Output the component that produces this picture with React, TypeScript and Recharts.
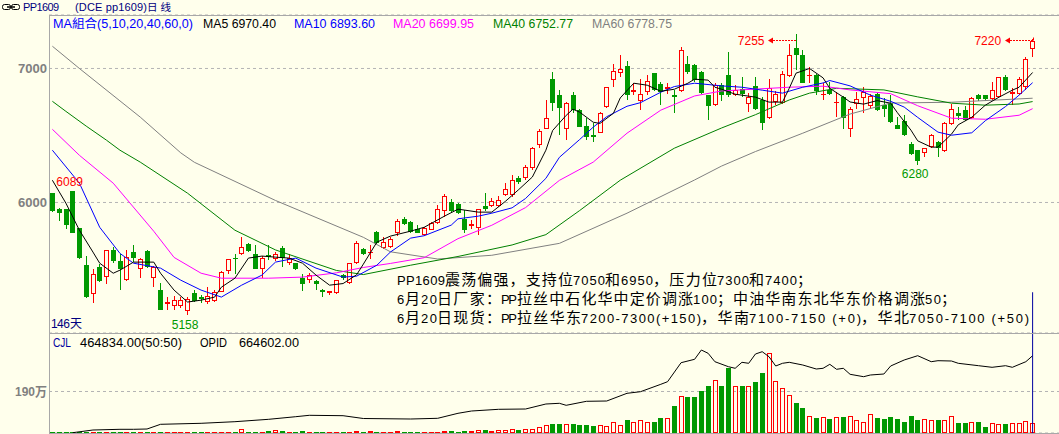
import React from 'react';
import { ComposedChart, Bar, Line, XAxis, YAxis, CartesianGrid, ReferenceDot, ReferenceLine } from 'recharts';

// ---- daily bars (index 0 = first visible day) ----
const OPEN = [
  6067, 5955, 5948, 6085, 5806, 5532, 5316, 5520, 5445, 5644,
  5562, 5425, 5632, 5500, 5637, 5440, 5346, 5241, 5231, 5226,
  5191, 5326, 5296, 5256, 5266, 5333, 5490, 5589, 5614, 5689,
  5612, 5507, 5609, 5575, 5664, 5552, 5545, 5440, 5420, 5413,
  5346, 5328, 5326, 5458, 5400, 5545, 5652, 5624, 5781, 5657,
  5669, 5769, 5876, 5858, 5803, 5756, 5798, 5848, 5938, 6000,
  5990, 5873, 5826, 5806, 5973, 5973, 5973, 6055, 6055, 6180,
  6179, 6254, 6428, 6552, 6920, 6801, 6552, 6801, 6689, 6572,
  6505, 6522, 6709, 6913, 6963, 7017, 6821, 6756, 6826, 6963,
  6883, 6846, 6801, 6831, 7037, 7025, 6975, 6801, 6730, 6876,
  6950, 6801, 6846, 6734, 6868, 6764, 6627, 6751, 6739, 6943,
  7154, 7100, 6943, 6950, 6801, 6843, 6739, 6789, 6552, 6734,
  6776, 6719, 6808, 6726, 6739, 6577, 6607, 6440, 6390, 6366,
  6415, 6453, 6386, 6585, 6664, 6689, 6627, 6801, 6801, 6769,
  6784, 6933, 6806, 6808, 6860, 7142,
];
const HIGH = [
  6070, 5960, 5952, 6089, 5810, 5599, 5500, 5540, 5645, 5669,
  5619, 5644, 5686, 5582, 5644, 5525, 5400, 5296, 5301, 5296,
  5296, 5346, 5308, 5366, 5346, 5490, 5580, 5619, 5739, 5700,
  5686, 5600, 5681, 5627, 5674, 5612, 5550, 5465, 5475, 5425,
  5355, 5343, 5425, 5465, 5550, 5714, 5660, 5682, 5790, 5744,
  5739, 5873, 5893, 5862, 5831, 5820, 5856, 5980, 6062, 6025,
  5998, 5943, 5870, 5955, 6072, 6030, 6045, 6142, 6204, 6196,
  6278, 6415, 6547, 6764, 6970, 6843, 6751, 6826, 6700, 6634,
  6590, 6677, 6865, 7032, 7100, 7055, 6888, 6918, 6950, 6968,
  6900, 6888, 6843, 7157, 7092, 7030, 6980, 6805, 6895, 6890,
  7124, 6876, 6933, 6818, 6938, 6790, 6925, 6830, 6983, 7179,
  7255, 7137, 7012, 6955, 6888, 6900, 6826, 6795, 6710, 6826,
  6858, 6810, 6815, 6776, 6801, 6639, 6652, 6450, 6395, 6410,
  6510, 6460, 6600, 6734, 6714, 6719, 6789, 6810, 6805, 6900,
  6938, 6950, 6851, 6938, 7082, 7220,
];
const LOW = [
  5930, 5863, 5801, 5770, 5580, 5290, 5251, 5410, 5395, 5550,
  5346, 5415, 5557, 5433, 5510, 5370, 5195, 5201, 5201, 5209,
  5158, 5259, 5251, 5246, 5260, 5330, 5465, 5470, 5610, 5630,
  5500, 5433, 5570, 5562, 5520, 5532, 5495, 5341, 5400, 5346,
  5291, 5310, 5320, 5420, 5395, 5540, 5610, 5575, 5690, 5650,
  5660, 5749, 5835, 5770, 5770, 5750, 5795, 5843, 5893, 5930,
  5915, 5769, 5800, 5756, 5938, 5968, 5965, 6047, 6040, 6140,
  6166, 6245, 6408, 6545, 6684, 6507, 6465, 6664, 6560, 6465,
  6453, 6515, 6705, 6863, 6938, 6764, 6801, 6689, 6801, 6830,
  6726, 6813, 6669, 6821, 6960, 6900, 6810, 6619, 6720, 6760,
  6790, 6795, 6789, 6677, 6690, 6540, 6620, 6730, 6735, 6940,
  6988, 6890, 6893, 6801, 6764, 6800, 6640, 6545, 6490, 6701,
  6664, 6700, 6680, 6640, 6595, 6545, 6495, 6355, 6280, 6340,
  6410, 6341, 6380, 6580, 6615, 6610, 6620, 6760, 6760, 6765,
  6780, 6830, 6726, 6800, 6840, 7087,
];
const CLOSE = [
  5935, 5923, 5831, 5774, 5587, 5296, 5470, 5415, 5644, 5562,
  5500, 5594, 5582, 5575, 5520, 5520, 5201, 5259, 5271, 5271,
  5283, 5266, 5281, 5301, 5333, 5483, 5575, 5575, 5669, 5639,
  5507, 5589, 5594, 5612, 5582, 5587, 5500, 5388, 5458, 5388,
  5331, 5338, 5420, 5433, 5545, 5694, 5619, 5632, 5699, 5706,
  5731, 5863, 5843, 5781, 5774, 5813, 5848, 5955, 6047, 5935,
  5920, 5793, 5836, 5948, 5953, 6010, 6022, 6097, 6170, 6154,
  6266, 6408, 6532, 6634, 6739, 6706, 6746, 6689, 6565, 6485,
  6490, 6664, 6858, 6983, 6993, 6801, 6843, 6808, 6908, 6838,
  6826, 6858, 6784, 7137, 6970, 6913, 6818, 6719, 6880, 6801,
  6801, 6843, 6813, 6789, 6701, 6590, 6851, 6806, 6958, 7100,
  7100, 6893, 6950, 6833, 6813, 6808, 6751, 6627, 6701, 6769,
  6826, 6794, 6689, 6694, 6602, 6552, 6502, 6361, 6311, 6403,
  6502, 6410, 6590, 6701, 6647, 6615, 6776, 6771, 6769, 6838,
  6933, 6838, 6826, 6918, 7067, 7206,
];
// volume, in 万 lots
const VOLUME = [
  1.5, 1.5, 1.5, 3, 3, 3, 4.5, 3, 4.5, 3,
  3, 4.5, 3, 3, 3, 3, 3, 3, 3, 3,
  3, 3, 3, 3, 3, 3, 3, 4.5, 18, 4.5,
  4.5, 4.5, 9, 12, 9, 4.5, 4.5, 9, 4.5, 4.5,
  4.5, 4.5, 4.5, 4.5, 4.5, 9, 4.5, 9, 4.5, 3,
  3, 9, 4.5, 4.5, 4.5, 3, 3, 3, 7.5, 9,
  4.5, 9, 9, 13.6, 13.6, 9, 13.6, 13.6, 18, 13.6,
  18, 18, 25.6, 36, 40.7, 40.7, 40.7, 40.7, 36, 36,
  31.7, 36, 31.7, 49.8, 36, 58.8, 49.8, 58.8, 49.8, 49.8,
  67.9, 70.9, 122, 170, 164, 167, 190, 217, 243, 213,
  296, 217, 217, 213, 235, 273, 366, 240, 207, 175,
  137, 115, 80, 68, 71, 63, 71, 72, 77, 59,
  50, 86, 68, 63, 72, 63, 51, 77, 59, 63,
  59, 59, 59, 77, 45, 45, 50, 50, 27, 45,
  41, 41, 45, 45, 54, 46.48,
];

// moving-average lines as [day, value]
const MA5_PTS: [number, number][] = [
  [0, 6166], [2, 5995], [4, 5793], [6, 5630], [7, 5547], [9, 5472], [10, 5495], [12, 5555], [15, 5555],
  [16, 5472], [18, 5346], [20, 5257], [22, 5271], [24, 5294], [25, 5368], [27, 5435], [29, 5585], [31, 5600],
  [33, 5592], [35, 5585], [37, 5547], [39, 5458], [41, 5383], [43, 5395], [45, 5460], [46, 5540], [48, 5704],
  [50, 5749], [53, 5786], [55, 5815], [58, 5898], [60, 5950], [61, 5943], [63, 5928], [65, 5928], [67, 6008],
  [69, 6097], [71, 6190], [73, 6390], [74, 6537], [76, 6650], [77, 6696], [78, 6674], [80, 6599], [81, 6590],
  [83, 6666], [84, 6780], [86, 6890], [88, 6875], [90, 6830], [92, 6845], [94, 6890], [95, 6920], [97, 6913],
  [98, 6860], [99, 6845], [101, 6808], [104, 6786], [106, 6749], [108, 6749], [109, 6852], [110, 6965],
  [112, 7000], [114, 6930], [115, 6852], [117, 6786], [118, 6750], [120, 6734], [122, 6760], [124, 6741],
  [125, 6670], [127, 6540], [128, 6460], [130, 6413], [131, 6413], [133, 6510], [134, 6580], [136, 6636],
  [138, 6726], [140, 6785], [142, 6838], [143, 6860], [145, 6970],
];
const MA10_PTS: [number, number][] = [
  [0, 6390], [4, 6144], [7, 5815], [10, 5620], [12, 5547], [16, 5510], [19, 5420], [22, 5346], [25, 5294],
  [28, 5383], [31, 5458], [33, 5555], [36, 5585], [39, 5510], [43, 5443], [45, 5450], [48, 5532], [50, 5630],
  [53, 5734], [55, 5752], [59, 5831], [60, 5878], [63, 5898], [65, 5920], [68, 5960], [70, 6030], [73, 6180],
  [75, 6337], [78, 6470], [80, 6562], [82, 6640], [85, 6718], [87, 6745], [90, 6823], [92, 6865], [95, 6890],
  [99, 6870], [102, 6860], [105, 6838], [108, 6816], [111, 6860], [114, 6892], [115, 6910], [118, 6870],
  [121, 6801], [124, 6755], [126, 6712], [128, 6635], [131, 6525], [133, 6502], [136, 6520], [138, 6610],
  [141, 6716], [143, 6801], [145, 6894],
];
const MA20_PTS: [number, number][] = [
  [0, 6546], [4, 6352], [9, 6144], [15, 5785], [18, 5590], [22, 5472], [25, 5435], [32, 5435], [37, 5443],
  [42, 5475], [46, 5515], [50, 5545], [55, 5588], [60, 5730], [65, 5830], [70, 5962], [75, 6165], [80, 6301],
  [85, 6517], [90, 6689], [95, 6795], [99, 6832], [104, 6846], [109, 6860], [114, 6868], [118, 6840],
  [124, 6812], [128, 6722], [133, 6629], [138, 6621], [143, 6651], [145, 6700],
];
const MA40_PTS: [number, number][] = [
  [0, 6755], [2, 6680], [5, 6570], [8, 6465], [10, 6390], [13, 6301], [20, 6069], [27, 5793], [33, 5646],
  [42, 5493], [46, 5462], [53, 5532], [60, 5597], [68, 5683], [73, 5760], [78, 5940], [84, 6166], [92, 6405],
  [99, 6556], [104, 6655], [109, 6765], [112, 6816], [116, 6852], [123, 6840], [128, 6788], [133, 6741],
  [138, 6726], [143, 6735], [145, 6753],
];
const MA60_PTS: [number, number][] = [
  [0, 7166], [4, 7000], [13, 6637], [19, 6370], [21, 6300], [33, 6015], [46, 5740], [50, 5632], [57, 5578],
  [65, 5606], [75, 5695], [85, 5920], [95, 6168], [99, 6272], [104, 6380], [111, 6517], [118, 6660],
  [124, 6742], [133, 6748], [145, 6778],
];
// open interest line in the lower panel, [day, lots]
const OPID_PTS: [number, number][] = [
  [3, 2600], [6, 25800], [10, 31800], [12, 31800], [14, 34400], [16, 74800], [22, 83400], [27, 97200],
  [32, 117800], [36, 140200], [38, 152200], [43, 148800], [46, 124700], [53, 120400], [57, 126400],
  [60, 169400], [62, 189200], [66, 203800], [70, 206400], [73, 249400], [75, 255400], [76, 238200],
  [79, 272600], [82, 275200], [85, 341400], [87, 355200], [90, 418800], [91, 441200], [93, 604600],
  [95, 633800], [96, 713800], [97, 685400], [98, 613200], [100, 570200], [101, 556400], [102, 608000],
  [103, 599400], [104, 679400], [105, 699200], [106, 656200], [107, 576200], [108, 599400], [109, 608000],
  [111, 584800], [113, 550400], [114, 556400], [115, 590800], [116, 547800], [117, 556400], [118, 504800],
  [120, 484200], [121, 498800], [123, 507400], [124, 576200], [126, 627800], [128, 664800], [130, 613200],
  [131, 621800], [133, 619200], [134, 599400], [137, 578800], [139, 565000], [141, 578800], [142, 565000],
  [144, 613200], [145, 664602],
];

const PRICE_TICKS = [6000, 7000];
const VOL_TICKS = [190];
const PRICE_DOMAIN: [number, number] = [5026, 7399];
const VOL_DOMAIN: [number, number] = [0, 457.8];
const OPID_DOMAIN: [number, number] = [0, 860000];
const CURSOR_FROM = 5330;

// labelled extremes: [day, price]
const HIGH_MARKS: [number, number][] = [[3, 6089]];
const LOW_MARKS: [number, number][] = [[20, 5158], [128, 6280]];
const ARROW_MARKS: [number, number, number][] = [[110, 7255, 6], [145, 7220, 1.5]];

const MA_LEGEND = [
  { x: 53, text: 'MA組合(5,10,20,40,60,0)', color: '#0000FF', w: 140 },
  { x: 203, text: 'MA5 6970.40', color: '#000000', w: 73 },
  { x: 294, text: 'MA10 6893.60', color: '#0000FF', w: 81 },
  { x: 393, text: 'MA20 6699.95', color: '#FF00FF', w: 81 },
  { x: 493, text: 'MA40 6752.77', color: '#008000', w: 80 },
  { x: 592, text: 'MA60 6778.75', color: '#808080', w: 80 },
];
const VOL_LEGEND = [
  { x: 53, text: 'CJL', color: '#0000A0', w: 18 },
  { x: 80, text: '464834.00(50:50)', color: '#000000', w: 102 },
  { x: 200, text: 'OPID', color: '#000000', w: 27 },
  { x: 239, text: '664602.00', color: '#000000', w: 60 },
];
const NOTES = [
  'PP1609震荡偏强，支持位7050和6950，压力位7300和7400；',
  '6月20日厂家：PP拉丝中石化华中定价调涨100；中油华南东北华东价格调涨50；',
  '6月20日现货：PP拉丝华东7200-7300(+150)，华南7100-7150 (+0)，华北7050-7100 (+50)',
];

const BG = '#FFFFEC';
const RED = '#FF0000';
const GREEN = '#009900';
const FRAME = '#A8A8A8';
const GRID = '#B4B4B4';
const SANS = '"Liberation Sans", Arial, sans-serif';
const CJK = '"Noto Sans CJK SC", sans-serif';
const MIXED = '"Liberation Sans", "Noto Sans CJK SC", sans-serif';

const lookup = (pts: [number, number][]) => {
  const m = new Map(pts);
  return (i: number) => (m.has(i) ? (m.get(i) as number) : null);
};
const ma5 = lookup(MA5_PTS), ma10 = lookup(MA10_PTS), ma20 = lookup(MA20_PTS);
const ma40 = lookup(MA40_PTS), ma60 = lookup(MA60_PTS), opid = lookup(OPID_PTS);

const rows = OPEN.map((o, i) => ({
  idx: i,
  open: o,
  high: HIGH[i],
  low: LOW[i],
  close: CLOSE[i],
  range: [LOW[i], HIGH[i]],
  vol: VOLUME[i],
  ma5: ma5(i),
  ma10: ma10(i),
  ma20: ma20(i),
  ma40: ma40(i),
  ma60: ma60(i),
  opid: opid(i),
}));

const Candle = (props: any) => {
  const { x, y, width, height, payload } = props;
  if (!payload || height == null) return null;
  const { open, close, high, low } = payload;
  const top = Math.min(y, y + height);
  const h = Math.abs(height);
  const toY = (p: number) => top + ((high - p) / (high - low || 1)) * h;
  const cx = Math.floor(x + width / 2);
  const up = close >= open;
  const bTop = Math.round(Math.min(toY(open), toY(close)));
  const bBot = Math.round(Math.max(toY(open), toY(close)));
  const wTop = Math.round(top);
  const wBot = Math.round(top + h);
  if (up) {
    return (
      <g>
        <line x1={cx + 0.5} x2={cx + 0.5} y1={wTop} y2={bTop} stroke={RED} />
        <line x1={cx + 0.5} x2={cx + 0.5} y1={bBot} y2={wBot} stroke={RED} />
        {bBot - bTop < 2 ? (
          <line x1={cx - 2} x2={cx + 3} y1={bTop + 0.5} y2={bTop + 0.5} stroke={RED} />
        ) : (
          <rect x={cx - 1.5} y={bTop + 0.5} width={4} height={bBot - bTop - 1} fill={BG} stroke={RED} />
        )}
      </g>
    );
  }
  return (
    <g>
      <line x1={cx + 0.5} x2={cx + 0.5} y1={wTop} y2={wBot} stroke={GREEN} />
      <rect x={cx - 2} y={bTop} width={5} height={Math.max(bBot - bTop, 1)} fill={GREEN} />
    </g>
  );
};

const VolBar = (props: any) => {
  const { x, y, width, height, payload } = props;
  if (!payload || height == null) return null;
  const cx = Math.floor(x + width / 2);
  const bot = Math.round(y + height);
  const top = Math.min(Math.round(y), bot - 1);
  if (payload.close >= payload.open) {
    if (bot - top < 3) return <rect x={cx - 2} y={top} width={5} height={bot - top} fill={RED} />;
    return <rect x={cx - 1.5} y={top + 0.5} width={4} height={bot - top - 1} fill="none" stroke={RED} />;
  }
  return <rect x={cx - 2} y={top} width={5} height={bot - top} fill={GREEN} />;
};

const AxisTick = (props: any) => {
  const { x, y, payload, suffix, w } = props;
  const label = `${payload.value}${suffix || ''}`;
  return (
    <text
      x={x}
      y={y + 4.5}
      textAnchor="end"
      fill="#808080"
      fontSize={13}
      fontWeight="bold"
      fontFamily={MIXED}
      textLength={w}
      lengthAdjust="spacingAndGlyphs"
    >
      {label}
    </text>
  );
};

const isWide = (ch: string) => ch.charCodeAt(0) >= 0x2e80;
const splitRuns = (s: string) => {
  const out: { t: string; wide: boolean }[] = [];
  for (const ch of Array.from(s)) {
    const w = isWide(ch);
    const last = out[out.length - 1];
    if (last && last.wide === w) last.t += ch;
    else out.push({ t: ch, wide: w });
  }
  return out;
};

// text laid out on a half-width / full-width grid, like the terminal's bitmap font
const GridText = ({ x, y, text, half, latinSize, wideSize, fill }: any) => {
  let cur = x;
  return (
    <g>
      {splitRuns(text).map((r, k) => {
        const w = r.t.length * (r.wide ? half * 2 : half);
        const el = (
          <text
            key={k}
            x={cur}
            y={y}
            textLength={w}
            lengthAdjust="spacing"
            fontSize={r.wide ? wideSize : latinSize}
            fontFamily={r.wide ? CJK : SANS}
            fill={fill}
          >
            {r.t}
          </text>
        );
        cur += w;
        return el;
      })}
    </g>
  );
};

const LegendText = ({ x, y, text, color, w }: any) => (
  <text x={x} y={y} fill={color} fontSize={12} fontFamily={MIXED} textLength={w} lengthAdjust="spacingAndGlyphs">
    {text}
  </text>
);

const HighLabel = (price: number) => (p: any) => (
  <text x={p.cx - 3} y={p.cy - 5} textAnchor="middle" fill={RED} fontSize={12} fontFamily={SANS}>
    {price}
  </text>
);
const LowLabel = (price: number) => (p: any) => (
  <text x={p.cx - 2.5} y={p.cy + 13.5} textAnchor="middle" fill={GREEN} fontSize={12} fontFamily={SANS}>
    {price}
  </text>
);
const ArrowLabel = (price: number, dy: number) => (p: any) => {
  const ay = Math.round(p.cy + dy) + 0.5;
  const tip = Math.round(p.cx) - 28;
  return (
    <g>
      <text x={p.cx - 31.5} y={ay + 4} textAnchor="end" fill={RED} fontSize={12} fontFamily={SANS}>
        {price}
      </text>
      <path d={`M${tip},${ay} l5,-3 v6 z`} fill={RED} />
      <line x1={tip + 5} x2={Math.round(p.cx)} y1={ay} y2={ay} stroke={RED} strokeDasharray="2 1" />
      {dy < 3 && (
        <line x1={Math.round(p.cx) + 0.5} x2={Math.round(p.cx) + 0.5} y1={ay - 3} y2={ay} stroke={RED} />
      )}
    </g>
  );
};

const lineProps = {
  type: 'linear' as const,
  dot: false,
  activeDot: false,
  connectNulls: true,
  strokeWidth: 1,
  isAnimationActive: false,
};

export default function App() {
  return (
    <div style={{ position: 'relative', width: 1059, height: 434, background: BG, overflow: 'hidden' }}>
      <style>{'body{margin:0}'}</style>

      <div style={{ position: 'absolute', left: 0, top: 0 }}>
        <ComposedChart
          width={1059}
          height={333}
          data={rows}
          margin={{ top: 15, right: 0, bottom: 0, left: 0 }}
          barCategoryGap={0}
        >
          <CartesianGrid vertical={false} stroke={GRID} strokeDasharray="3 3" />
          <XAxis dataKey="idx" hide padding={{ left: 0, right: 23 }} />
          <YAxis
            domain={PRICE_DOMAIN}
            ticks={PRICE_TICKS}
            allowDataOverflow
            width={49}
            axisLine={false}
            tickLine={false}
            tickSize={0}
            tickMargin={2}
            tick={(p: any) => <AxisTick {...p} w={29} />}
          />
          <Bar dataKey="range" shape={Candle} isAnimationActive={false} />
          <Line dataKey="ma60" stroke="#808080" {...lineProps} />
          <Line dataKey="ma40" stroke="#008000" {...lineProps} />
          <Line dataKey="ma20" stroke="#FF00FF" {...lineProps} />
          <Line dataKey="ma10" stroke="#0000FF" {...lineProps} />
          <Line dataKey="ma5" stroke="#000000" {...lineProps} />
          {HIGH_MARKS.map(([i, v]) => (
            <ReferenceDot key={`h${i}`} x={i} y={v} r={0} ifOverflow="visible" shape={HighLabel(v)} />
          ))}
          {LOW_MARKS.map(([i, v]) => (
            <ReferenceDot key={`l${i}`} x={i} y={v} r={0} ifOverflow="visible" shape={LowLabel(v)} />
          ))}
          {ARROW_MARKS.map(([i, v, dy]) => (
            <ReferenceDot key={`a${i}`} x={i} y={v} r={0} ifOverflow="visible" shape={ArrowLabel(v, dy)} />
          ))}
          <ReferenceLine
            segment={[
              { x: 145, y: CURSOR_FROM },
              { x: 145, y: PRICE_DOMAIN[0] },
            ]}
            stroke="#0000A0"
            ifOverflow="visible"
          />
        </ComposedChart>
      </div>

      <div style={{ position: 'absolute', left: 0, top: 333 }}>
        <ComposedChart
          width={1059}
          height={101}
          data={rows}
          margin={{ top: 0, right: 0, bottom: 1, left: 0 }}
          barCategoryGap={0}
        >
          <CartesianGrid yAxisId="vol" vertical={false} stroke={GRID} strokeDasharray="3 3" />
          <XAxis dataKey="idx" hide padding={{ left: 0, right: 23 }} />
          <YAxis
            yAxisId="vol"
            orientation="left"
            domain={VOL_DOMAIN}
            ticks={VOL_TICKS}
            allowDataOverflow
            width={49}
            axisLine={false}
            tickLine={false}
            tickSize={0}
            tickMargin={2}
            tick={(p: any) => <AxisTick {...p} suffix="万" w={32} />}
          />
          <YAxis yAxisId="oi" orientation="right" hide domain={OPID_DOMAIN} allowDataOverflow />
          <Bar yAxisId="vol" dataKey="vol" shape={VolBar} isAnimationActive={false} />
          <Line yAxisId="oi" dataKey="opid" stroke="#000000" {...lineProps} />
          <ReferenceLine yAxisId="vol" x={145} stroke="#0000A0" />
        </ComposedChart>
      </div>

      <svg width={1059} height={434} style={{ position: 'absolute', left: 0, top: 0, pointerEvents: 'none' }}>
        <line x1={49} x2={1059} y1={15.5} y2={15.5} stroke={FRAME} />
        <line x1={49} x2={1059} y1={333.5} y2={333.5} stroke={FRAME} />
        <line x1={49} x2={1059} y1={433.5} y2={433.5} stroke={FRAME} />
        <line x1={49.5} x2={49.5} y1={15} y2={434} stroke={FRAME} />

        <rect x={2.5} y={4.5} width={8} height={5} rx={2} fill="none" stroke="#000000" />
        <rect x={11.5} y={4.5} width={8} height={5} rx={2} fill="none" stroke="#000000" />
        <line x1={7} x2={15} y1={7} y2={7} stroke="#000000" strokeWidth={1.5} />
        <GridText x={23} y={11} text="PP1609" half={6} latinSize={11} wideSize={10.5} fill="#000080" />
        <GridText x={75} y={11} text="(DCE pp1609)日线" half={6} latinSize={11} wideSize={10.5} fill="#000080" />

        {MA_LEGEND.map((l) => (
          <LegendText key={l.text} x={l.x} y={28} text={l.text} color={l.color} w={l.w} />
        ))}
        {VOL_LEGEND.map((l) => (
          <LegendText key={l.text} x={l.x} y={347} text={l.text} color={l.color} w={l.w} />
        ))}

        <GridText x={51} y={328} text="146天" half={6.3} latinSize={12} wideSize={12} fill="#000080" />

        {NOTES.map((n, k) => (
          <GridText key={k} x={397} y={285 + k * 19} text={n} half={8} latinSize={13} wideSize={15} fill="#000000" />
        ))}
      </svg>
    </div>
  );
}
